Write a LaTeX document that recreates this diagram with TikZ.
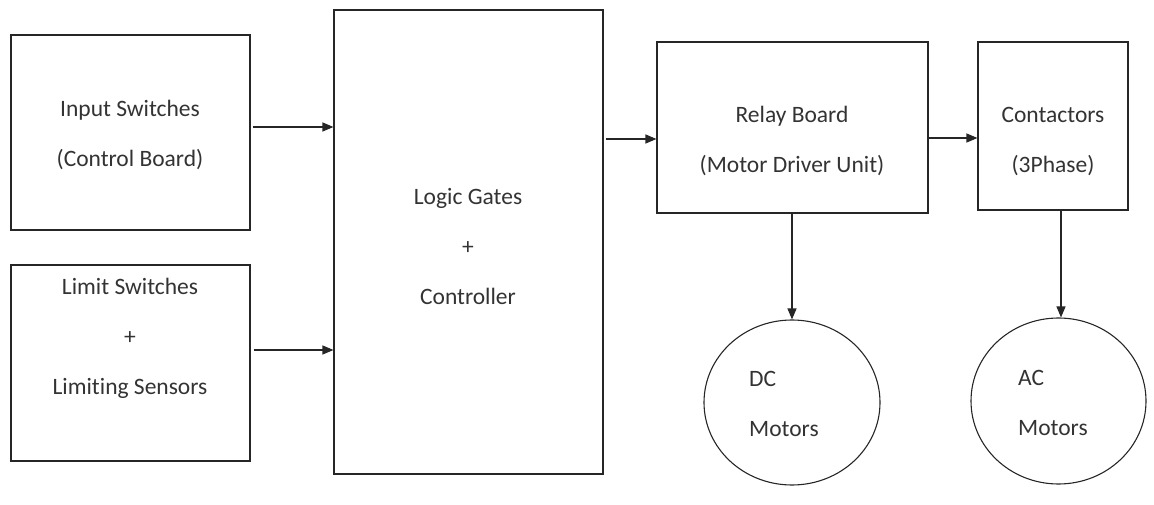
\documentclass[tikz,border=0pt]{standalone}
\usepackage{fontspec}
\setmainfont[Ligatures=NoCommon]{Carlito}
\usetikzlibrary{arrows.meta,shapes.geometric}
\begin{document}
\begin{tikzpicture}[x=1pt,y=-1pt,
  box/.style={draw=black!85,line width=1.1pt,rectangle,inner sep=0pt},
  motor/.style={draw=black!85,line width=1.1pt,ellipse,inner sep=0pt},
  lbl/.style={align=center,inner sep=0pt,text=black!80,font=\fontsize{23.5}{50}\selectfont},
  lbll/.style={align=left,inner sep=0pt,text=black!80,font=\fontsize{23.5}{50}\selectfont},
  arr/.style={draw=black!85,line width=1.1pt,-{Triangle[length=11pt,width=9pt]}}]
\useasboundingbox (0,0) rectangle (1154,505);

% blocks
\node[box,minimum width=239pt,minimum height=195pt] (inp) at (130.5,132.5) {};
\node[box,minimum width=239pt,minimum height=196pt] (lim) at (130.5,363) {};
\node[box,minimum width=269pt,minimum height=464pt] (logic) at (468.5,242) {};
\node[box,minimum width=271pt,minimum height=171pt] (relay) at (792.5,127.5) {};
\node[box,minimum width=150pt,minimum height=168pt] (cont) at (1053,126) {};
\node[motor,minimum width=176pt,minimum height=165pt] (dc) at (792,402.5) {};
\node[motor,minimum width=175pt,minimum height=166pt] (ac) at (1058.5,401) {};

% block texts
\node[lbl] (tinp) at (130,135) {Input Switches\\(Control Board)};
\node[lbl] (tlim) at (130,338.5) {Limit Switches\\+\\Limiting Sensors};
\node[lbl] (tlogic) at (468,247) {Logic Gates\\+\\Controller};
\node[lbl] (trelay) at (792,141) {Relay Board\\(Motor Driver Unit)};
\node[lbl] (tcont) at (1053,141.5) {Contactors\\(3Phase)};
\node[lbll,anchor=west] (tdc) at (749,404) {DC\\Motors};
\node[lbll,anchor=west] (tac) at (1018,403) {AC\\Motors};

% connectors
\draw[arr] ([xshift=2pt]inp.east |- 0,127) -- (logic.west |- 0,127);
\draw[arr] ([xshift=3pt]lim.east |- 0,350) -- (logic.west |- 0,350);
\draw[arr] ([xshift=2pt]logic.east |- 0,139) -- (relay.west |- 0,139);
\draw[arr] (relay.east |- 0,138) -- (cont.west |- 0,138);
\draw[arr] (relay.south -| dc.north) -- (dc.north);
\draw[arr] (cont.south -| 1061,0) -- (ac.north -| 1061,0);
\end{tikzpicture}
\end{document}
